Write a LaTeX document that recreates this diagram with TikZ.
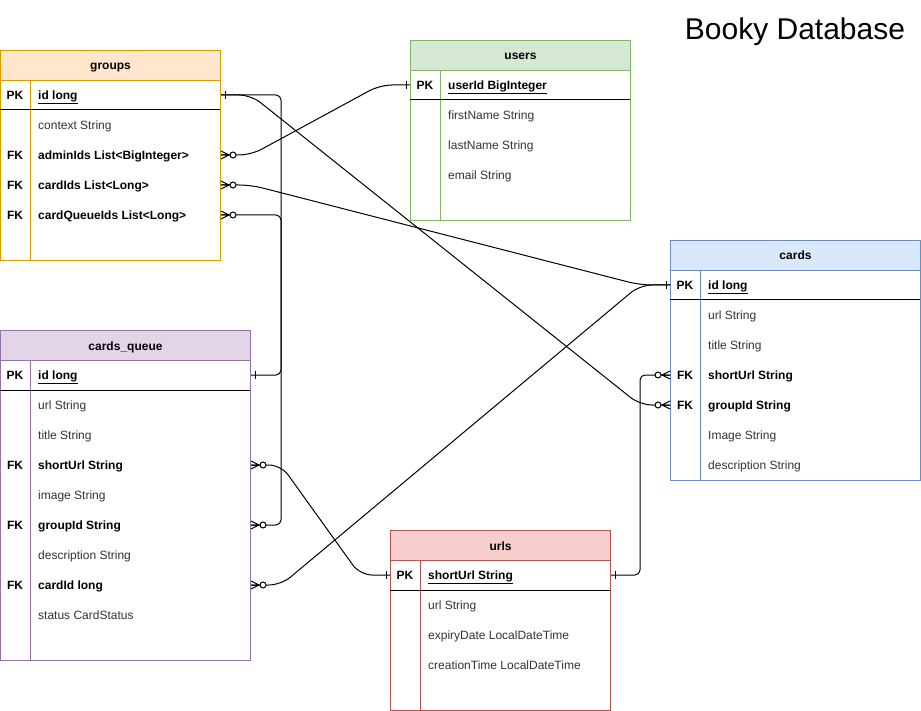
\documentclass[tikz,border=0pt]{standalone}
\usepackage{fontspec}
\setmainfont{Liberation Sans}
\usetikzlibrary{calc}
\definecolor{groupsfill}{HTML}{FFE6CC}
\definecolor{groupsline}{HTML}{D79B00}
\definecolor{usersfill}{HTML}{D5E8D4}
\definecolor{usersline}{HTML}{82B366}
\definecolor{cardsfill}{HTML}{DAE8FC}
\definecolor{cardsline}{HTML}{6C8EBF}
\definecolor{queuefill}{HTML}{E1D5E7}
\definecolor{queueline}{HTML}{9673A6}
\definecolor{urlsfill}{HTML}{F8CECC}
\definecolor{urlsline}{HTML}{B85450}
\definecolor{fieldtext}{HTML}{333333}

\tikzset{
  tbl/.style={draw, fill=white, line width=1pt, anchor=north west, inner sep=0pt},
  hdr/.style={draw, line width=1pt, anchor=north west, inner sep=0pt,
              minimum height=30pt, text height=11pt, text depth=2pt,
              font=\fontsize{12}{14}\selectfont\bfseries},
  fld/.style={anchor=west, inner xsep=8pt, inner ysep=0pt, text height=11pt,
              text depth=2pt, font=\fontsize{12}{14}\selectfont, text=fieldtext},
  keyfld/.style={fld, font=\fontsize{12}{14}\selectfont\bfseries, text=black},
  keylbl/.style={inner sep=0pt, text height=11pt, text depth=2pt,
                 font=\fontsize{12}{14}\selectfont\bfseries},
  conn/.style={line width=1pt, black},
  manyzero/.pic={
    \draw[conn] (0,-4) -- (8,0) -- (0,4) (0,0) -- (8,0);
    \draw[conn, fill=white] (12,0) circle[radius=3pt];
  },
  justone/.pic={\draw[conn] (4,-4) -- (4,4);}
}

\begin{document}
\begin{tikzpicture}[x=1pt, y=-1pt]
  \useasboundingbox (0,0) rectangle (921,711);
  \node[font=\fontsize{30}{34}\selectfont, anchor=base] (title) at (795,40) {Booky Database};

  % groups
  \node[tbl, draw=groupsline, minimum width=220pt, minimum height=210pt] (groups) at (0,50) {};
  \node[hdr, draw=groupsline, fill=groupsfill, minimum width=220pt] (groupsHead) at (0,50) {groups};
  \draw[groupsline, line width=1pt] (30,80) -- (30,260);
  \draw[line width=1pt] (0,110) -- (220,110);
  \node[keylbl] (gPK) at (15,95) {PK};
  \node[keyfld] (gId) at (30,95) {\underline{id long}};
  \node[fld] (gContext) at (30,125) {context String};
  \node[keylbl] (gFK1) at (15,155) {FK};
  \node[keyfld] (gAdmin) at (30,155) {adminIds List<BigInteger>};
  \node[keylbl] (gFK2) at (15,185) {FK};
  \node[keyfld] (gCards) at (30,185) {cardIds List<Long>};
  \node[keylbl] (gFK3) at (15,215) {FK};
  \node[keyfld] (gQueue) at (30,215) {cardQueueIds List<Long>};

  % users
  \node[tbl, draw=usersline, minimum width=220pt, minimum height=180pt] (users) at (410,40) {};
  \node[hdr, draw=usersline, fill=usersfill, minimum width=220pt] (usersHead) at (410,40) {users};
  \draw[usersline, line width=1pt] (440,70) -- (440,220);
  \draw[line width=1pt] (410,100) -- (630,100);
  \node[keylbl] (uPK) at (425,85) {PK};
  \node[keyfld] (uId) at (440,85) {\underline{userId BigInteger}};
  \foreach \t/\y in {firstName String/115, lastName String/145, email String/175}
    \node[fld] (uRow\y) at (440,\y) {\t};

  % cards
  \node[tbl, draw=cardsline, minimum width=250pt, minimum height=240pt] (cards) at (670,240) {};
  \node[hdr, draw=cardsline, fill=cardsfill, minimum width=250pt] (cardsHead) at (670,240) {cards};
  \draw[cardsline, line width=1pt] (700,270) -- (700,480);
  \draw[line width=1pt] (670,300) -- (920,300);
  \node[keylbl] (cPK) at (685,285) {PK};
  \node[keyfld] (cId) at (700,285) {\underline{id long}};
  \foreach \t/\y in {url String/315, title String/345, Image String/435, description String/465}
    \node[fld] (cRow\y) at (700,\y) {\t};
  \node[keylbl] (cFK1) at (685,375) {FK};
  \node[keyfld] (cShort) at (700,375) {shortUrl String};
  \node[keylbl] (cFK2) at (685,405) {FK};
  \node[keyfld] (cGroup) at (700,405) {groupId String};

  % cards_queue
  \node[tbl, draw=queueline, minimum width=250pt, minimum height=330pt] (queue) at (0,330) {};
  \node[hdr, draw=queueline, fill=queuefill, minimum width=250pt] (queueHead) at (0,330) {cards\_queue};
  \draw[queueline, line width=1pt] (30,360) -- (30,660);
  \draw[line width=1pt] (0,390) -- (250,390);
  \node[keylbl] (qPK) at (15,375) {PK};
  \node[keyfld] (qId) at (30,375) {\underline{id long}};
  \foreach \t/\y in {url String/405, title String/435, image String/495,
                     description String/555, status CardStatus/615}
    \node[fld] (qRow\y) at (30,\y) {\t};
  \node[keylbl] (qFK1) at (15,465) {FK};
  \node[keyfld] (qShort) at (30,465) {shortUrl String};
  \node[keylbl] (qFK2) at (15,525) {FK};
  \node[keyfld] (qGroup) at (30,525) {groupId String};
  \node[keylbl] (qFK3) at (15,585) {FK};
  \node[keyfld] (qCard) at (30,585) {cardId long};

  % urls
  \node[tbl, draw=urlsline, minimum width=220pt, minimum height=180pt] (urls) at (390,530) {};
  \node[hdr, draw=urlsline, fill=urlsfill, minimum width=220pt] (urlsHead) at (390,530) {urls};
  \draw[urlsline, line width=1pt] (420,560) -- (420,710);
  \draw[line width=1pt] (390,590) -- (610,590);
  \node[keylbl] (sPK) at (405,575) {PK};
  \node[keyfld] (sId) at (420,575) {\underline{shortUrl String}};
  \foreach \t/\y in {url String/605, expiryDate LocalDateTime/635, creationTime LocalDateTime/665}
    \node[fld] (sRow\y) at (420,\y) {\t};

  % relations
  \draw[conn, rounded corners=5pt] (groups.east |- gId) -- ++(60,0) |- (queue.east |- qGroup);
  \draw[conn, rounded corners=5pt] (groups.east |- gQueue) -- ++(60,0) |- (queue.east |- qId);
  \draw[conn, rounded corners=12pt] (groups.east |- gId) -- ++(30,0)
    -- ($(cards.west |- cGroup)+(-30,0)$) -- (cards.west |- cGroup);
  \draw[conn, rounded corners=12pt] (groups.east |- gAdmin) -- ++(30,0)
    -- ($(users.west |- uId)+(-30,0)$) -- (users.west |- uId);
  \draw[conn, rounded corners=12pt] (groups.east |- gCards) -- ++(30,0)
    -- ($(cards.west |- cId)+(-30,0)$) -- (cards.west |- cId);
  \draw[conn, rounded corners=12pt] (queue.east |- qCard) -- ++(30,0)
    -- ($(cards.west |- cId)+(-30,0)$) -- (cards.west |- cId);
  \draw[conn, rounded corners=12pt] (queue.east |- qShort) -- ++(30,0)
    -- ($(urls.west |- sId)+(-30,0)$) -- (urls.west |- sId);
  \draw[conn, rounded corners=5pt] (cards.west |- cShort) -- ++(-30,0) |- (urls.east |- sId);

  % ends
  \pic at (groups.east |- gId) {justone};
  \foreach \r in {gAdmin, gCards, gQueue}
    \pic at (groups.east |- \r) {manyzero};
  \pic at (queue.east |- qId) {justone};
  \foreach \r in {qShort, qGroup, qCard}
    \pic at (queue.east |- \r) {manyzero};
  \pic[xscale=-1] at (users.west |- uId) {justone};
  \pic[xscale=-1] at (cards.west |- cId) {justone};
  \pic[xscale=-1] at (cards.west |- cShort) {manyzero};
  \pic[xscale=-1] at (cards.west |- cGroup) {manyzero};
  \pic[xscale=-1] at (urls.west |- sId) {justone};
  \pic at (urls.east |- sId) {justone};
\end{tikzpicture}
\end{document}
